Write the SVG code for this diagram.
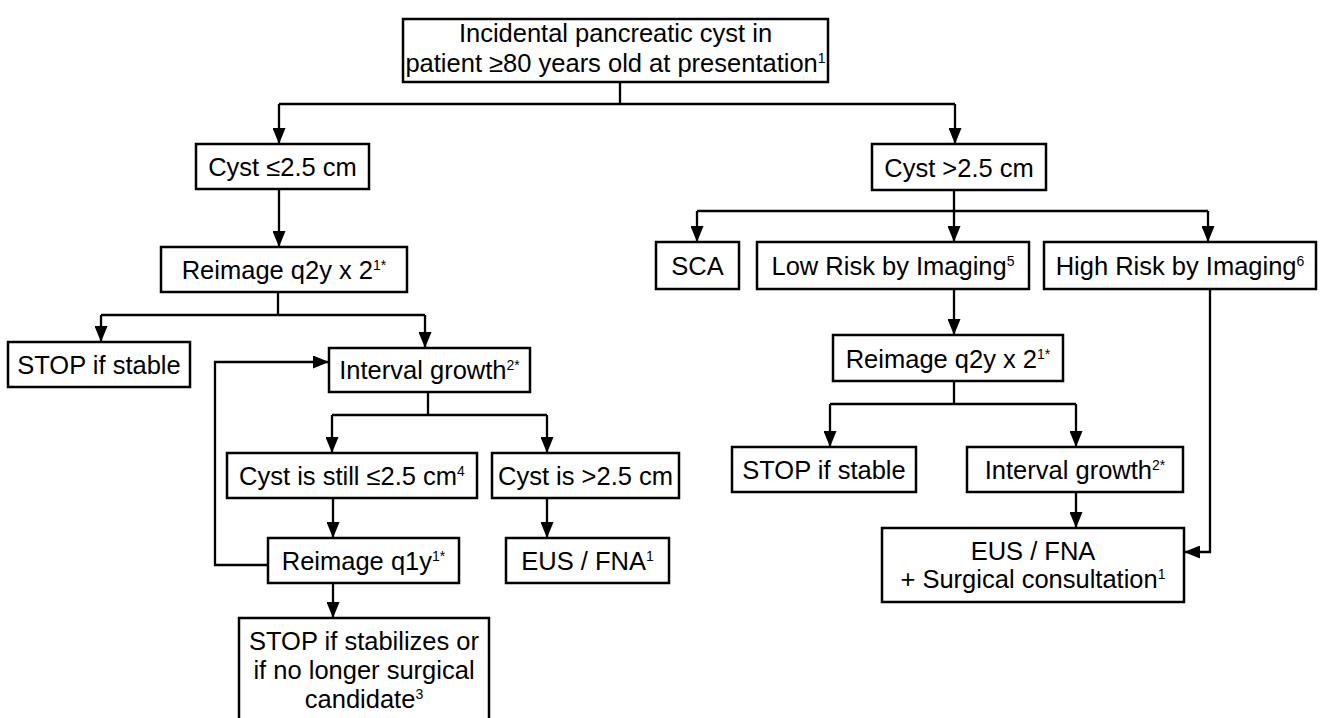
<svg xmlns="http://www.w3.org/2000/svg" width="1323" height="718" viewBox="0 0 1323 718">
  <defs>
    <marker id="arrow" markerUnits="userSpaceOnUse" markerWidth="17" markerHeight="13" refX="16" refY="6.5" orient="auto">
      <path d="M0,0 L16,6.5 L0,13 Z" fill="#000"/>
    </marker>
    <style>
      .box { fill: #fff; stroke: #000; stroke-width: 2.5; }
      .t { font-family: "Liberation Sans", Arial, Helvetica, sans-serif; font-size: 25.5px; fill: #000; text-anchor: middle; }
      .sup { font-size: 14px; }
      .conn path { fill: none; stroke: #000; stroke-width: 2.3; }
      .conn .a { marker-end: url(#arrow); }
    </style>
  </defs>
  <rect width="1323" height="718" fill="#fff"/>

  <!-- connectors -->
  <g class="conn">
    <!-- root split -->
    <path d="M620,82 V104"/>
    <path d="M279,104 H955"/>
    <path class="a" d="M279,104 V144"/>
    <path class="a" d="M955,104 V144"/>

    <!-- small cyst branch -->
    <path class="a" d="M279,189 V247"/>
    <path d="M278,292 V315"/>
    <path d="M101,315 H425"/>
    <path class="a" d="M101,315 V342"/>
    <path class="a" d="M425,315 V348"/>
    <path d="M428,392 V415"/>
    <path d="M332,415 H547"/>
    <path class="a" d="M332,415 V453"/>
    <path class="a" d="M547,415 V453"/>
    <path class="a" d="M333,498 V538"/>
    <path class="a" d="M547,498 V538"/>
    <path class="a" d="M333,583 V618"/>
    <!-- yearly reimaging loop back to growth check -->
    <path class="a" d="M268,565 H215 V362 H329"/>

    <!-- large cyst branch -->
    <path d="M954,190 V211"/>
    <path d="M697,211 H1208"/>
    <path class="a" d="M697,211 V242"/>
    <path class="a" d="M954,211 V242"/>
    <path class="a" d="M1208,211 V242"/>
    <path class="a" d="M954,289 V335"/>
    <path d="M954,381 V404"/>
    <path d="M830,404 H1076"/>
    <path class="a" d="M830,404 V447"/>
    <path class="a" d="M1076,404 V447"/>
    <path class="a" d="M1076,492 V528"/>
    <path class="a" d="M1210,289 V552 H1184"/>
  </g>

  <!-- nodes -->
  <g id="root">
    <rect class="box" x="403" y="19" width="425" height="63"/>
    <text class="t" x="615.5" y="42">Incidental pancreatic cyst in</text>
    <text class="t" x="615.5" y="72">patient ≥80 years old at presentation<tspan class="sup" dy="-9">1</tspan></text>
  </g>

  <g id="cyst-small">
    <rect class="box" x="196" y="144" width="173" height="45"/>
    <text class="t" x="282.5" y="176">Cyst ≤2.5 cm</text>
  </g>

  <g id="reimage-q2y-left">
    <rect class="box" x="161" y="247" width="246" height="45"/>
    <text class="t" x="284" y="279">Reimage q2y x 2<tspan class="sup" dy="-9">1*</tspan></text>
  </g>

  <g id="stop-stable-left">
    <rect class="box" x="8" y="342" width="182" height="45"/>
    <text class="t" x="99" y="374">STOP if stable</text>
  </g>

  <g id="growth-left">
    <rect class="box" x="329" y="348" width="201" height="44"/>
    <text class="t" x="429.5" y="379">Interval growth<tspan class="sup" dy="-9">2*</tspan></text>
  </g>

  <g id="still-small">
    <rect class="box" x="227" y="453" width="250" height="45"/>
    <text class="t" x="352" y="485">Cyst is still ≤2.5 cm<tspan class="sup" dy="-9">4</tspan></text>
  </g>

  <g id="now-large">
    <rect class="box" x="492" y="453" width="187" height="45"/>
    <text class="t" x="585.5" y="485">Cyst is &gt;2.5 cm</text>
  </g>

  <g id="reimage-q1y">
    <rect class="box" x="268" y="538" width="191" height="45"/>
    <text class="t" x="363.5" y="570">Reimage q1y<tspan class="sup" dy="-9">1*</tspan></text>
  </g>

  <g id="eus-left">
    <rect class="box" x="506" y="538" width="163" height="45"/>
    <text class="t" x="587.5" y="570">EUS / FNA<tspan class="sup" dy="-9">1</tspan></text>
  </g>

  <g id="stop-stabilizes">
    <rect class="box" x="239" y="618" width="250" height="110"/>
    <text class="t" x="364" y="650">STOP if stabilizes or</text>
    <text class="t" x="364" y="679">if no longer surgical</text>
    <text class="t" x="364" y="708">candidate<tspan class="sup" dy="-9">3</tspan></text>
  </g>

  <g id="cyst-large">
    <rect class="box" x="872" y="144" width="174" height="46"/>
    <text class="t" x="959" y="176.5">Cyst &gt;2.5 cm</text>
  </g>

  <g id="sca">
    <rect class="box" x="656" y="242" width="83" height="47"/>
    <text class="t" x="697.5" y="275">SCA</text>
  </g>

  <g id="low-risk">
    <rect class="box" x="757" y="242" width="272" height="47"/>
    <text class="t" x="893" y="275">Low Risk by Imaging<tspan class="sup" dy="-9">5</tspan></text>
  </g>

  <g id="high-risk">
    <rect class="box" x="1044" y="242" width="272" height="47"/>
    <text class="t" x="1180" y="275">High Risk by Imaging<tspan class="sup" dy="-9">6</tspan></text>
  </g>

  <g id="reimage-q2y-right">
    <rect class="box" x="833" y="335" width="230" height="46"/>
    <text class="t" x="948" y="367.5">Reimage q2y x 2<tspan class="sup" dy="-9">1*</tspan></text>
  </g>

  <g id="stop-stable-right">
    <rect class="box" x="732" y="447" width="184" height="45"/>
    <text class="t" x="824" y="479">STOP if stable</text>
  </g>

  <g id="growth-right">
    <rect class="box" x="967" y="447" width="216" height="45"/>
    <text class="t" x="1075" y="479">Interval growth<tspan class="sup" dy="-9">2*</tspan></text>
  </g>

  <g id="eus-surgical">
    <rect class="box" x="882" y="528" width="302" height="74"/>
    <text class="t" x="1033" y="560">EUS / FNA</text>
    <text class="t" x="1033" y="588">+ Surgical consultation<tspan class="sup" dy="-9">1</tspan></text>
  </g>
</svg>
